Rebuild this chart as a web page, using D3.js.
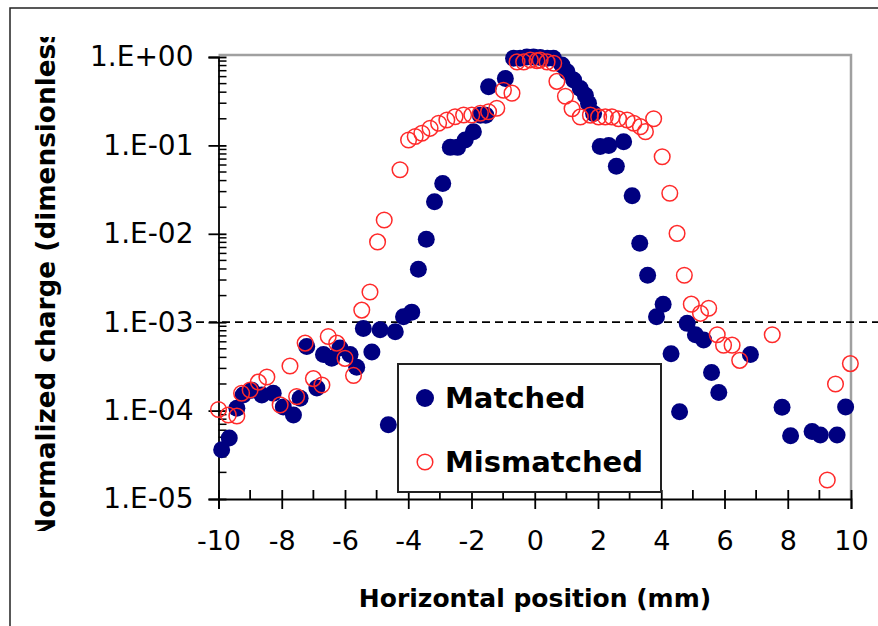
<!DOCTYPE html>
<html><head><meta charset="utf-8">
<script src="https://cdn.jsdelivr.net/npm/d3@7"></script>
<style>
html,body{margin:0;padding:0;background:#fff;}
svg{display:block;}
text{font-family:"DejaVu Sans",Verdana,sans-serif;fill:#000;}
</style></head>
<body>
<svg id="chart" width="878" height="626"></svg>
<script>
// ---- data ----
const matchedX = [-9.90,-9.66,-9.42,-9.22,-8.95,-8.63,-8.27,-7.95,-7.63,-7.42,-7.21,-6.89,-6.68,-6.42,-6.16,-5.84,-5.63,-5.42,-5.15,-4.89,-4.63,-4.41,-4.15,-3.89,
  -3.68,-3.43,-3.17,-2.91,-2.67,-2.44,-2.20,-1.94,-1.72,-1.55,-1.46,-0.93,-0.67,-0.46,-0.25,-0.04,0.17,0.40,0.59,0.86,1.02,1.23,1.44,1.60,1.70,1.86,
  2.07,2.34,2.58,2.81,3.08,3.32,3.57,3.85,4.06,4.31,4.58,4.82,5.08,5.34,5.59,5.82,6.82,7.82,8.09,8.77,9.03,9.56,9.83];
const matchedY = [3.6e-5,4.9e-5,1.06e-4,1.5e-4,1.7e-4,1.5e-4,1.57e-4,1.1e-4,8.9e-5,1.38e-4,5.3e-4,1.8e-4,4.3e-4,3.9e-4,5.1e-4,4.3e-4,3.1e-4,8.5e-4,4.6e-4,8.2e-4,6.9e-5,7.8e-4,1.15e-3,1.3e-3,
  3.96e-3,8.7e-3,2.3e-2,3.7e-2,9.5e-2,9.5e-2,0.115,0.143,0.22,0.22,0.46,0.57,0.97,0.97,1.0,1.0,0.99,0.97,0.97,0.81,0.68,0.55,0.44,0.37,0.30,0.23,
  0.097,0.10,5.8e-2,0.11,2.7e-2,7.8e-3,3.4e-3,1.15e-3,1.6e-3,4.4e-4,9.7e-5,9.7e-4,7.2e-4,6.3e-4,2.7e-4,1.6e-4,4.3e-4,1.09e-4,5.2e-5,5.8e-5,5.3e-5,5.3e-5,1.1e-4];

const mismatchedX = [-10.0,-9.69,-9.42,-9.27,-9.0,-8.74,-8.47,-8.05,-7.74,-7.53,-7.26,-7.0,-6.73,-6.53,-6.26,-6.0,-5.73,-5.47,-5.21,
  -4.97,-4.76,-4.26,-3.99,-3.78,-3.57,-3.31,-3.04,-2.78,-2.52,-2.25,-1.99,-1.72,-1.46,-1.20,-0.99,-0.72,-0.56,-0.35,-0.14,0.07,0.17,0.39,0.60,
  0.70,0.97,1.18,1.44,1.76,2.02,2.23,2.44,2.65,2.92,3.13,3.34,3.50,3.76,4.03,4.27,4.50,4.73,4.95,5.24,5.50,5.77,5.97,6.24,6.48,7.51,9.25,9.51,9.98];
const mismatchedY = [1.03e-4,8.9e-5,8.7e-5,1.57e-4,1.71e-4,2.1e-4,2.4e-4,1.16e-4,3.2e-4,1.44e-4,5.8e-4,2.3e-4,1.95e-4,6.9e-4,5.8e-4,3.9e-4,2.5e-4,1.37e-3,2.2e-3,
  8.1e-3,1.43e-2,5.3e-2,0.115,0.126,0.137,0.156,0.178,0.194,0.211,0.221,0.221,0.231,0.24,0.263,0.42,0.39,0.88,0.88,0.925,0.91,0.925,0.88,0.85,
  0.53,0.36,0.26,0.21,0.22,0.21,0.21,0.21,0.20,0.194,0.178,0.163,0.143,0.20,0.0745,0.0287,0.0101,3.4e-3,1.6e-3,1.26e-3,1.44e-3,7.2e-4,5.5e-4,5.5e-4,3.7e-4,7.2e-4,1.64e-5,2.0e-4,3.4e-4];

const seriesNames = ["Matched","Mismatched"];
const xTickValues = [-10,-8,-6,-4,-2,0,2,4,6,8,10];
const xTickLabels = ["-10","-8","-6","-4","-2","0","2","4","6","8","10"];
const yTickValues = [1,1e-1,1e-2,1e-3,1e-4,1e-5];
const yTickLabels = ["1.E+00","1.E-01","1.E-02","1.E-03","1.E-04","1.E-05"];
const thresholdValue = 1e-3;
const xTitle = "Horizontal position (mm)";
const yTitle = "Normalized charge (dimensionless)";

// ---- layout ----
const svg = d3.select("#chart");
const L = 218.5, R = 851, T = 57, B = 499;
const x = d3.scaleLinear().domain([-10,10]).range([L,R]);
const y = d3.scaleLog().domain([1e-5,1]).range([B,T]);

// outer frame (left and top edges visible)
svg.append("path").attr("d","M10,626 L10,8 L878,8").attr("fill","none").attr("stroke","#222").attr("stroke-width",1.5);

// plot area border (gray top/right)
svg.append("path").attr("d",`M${L},${T-2} L${R},${T-2} L${R},${B}`).attr("fill","none").attr("stroke","#a0a0a0").attr("stroke-width",2.5);

// threshold dashed line
svg.append("line").attr("x1",196).attr("x2",878).attr("y1",y(thresholdValue)).attr("y2",y(thresholdValue))
  .attr("stroke","#000").attr("stroke-width",1.8).attr("stroke-dasharray","8,5");

// minor ticks
const xMinor = d3.range(-9,10,2);
const yMinor = [];
for (let k=-5;k<0;k++) for (let m=2;m<=9;m++) yMinor.push(m*Math.pow(10,k));

const gx = svg.append("g").attr("transform",`translate(0,${B})`);
gx.call(d3.axisBottom(x).tickValues(xTickValues).tickFormat((d,i)=>xTickLabels[i]).tickSize(10).tickPadding(22));
gx.select(".domain").attr("stroke","#000").attr("stroke-width",1.8);
gx.selectAll(".tick line").attr("y1",-9).attr("y2",10).attr("stroke","#000").attr("stroke-width",1.8);
gx.selectAll(".tick text").attr("font-size",27).attr("font-family","DejaVu Sans").attr("fill","#000");
gx.selectAll(".minor").data(xMinor).enter().append("line").attr("class","minor")
  .attr("x1",d=>x(d)).attr("x2",d=>x(d)).attr("y1",-9).attr("y2",0).attr("stroke","#000").attr("stroke-width",1.8);

const gy = svg.append("g").attr("transform",`translate(${L},0)`);
gy.call(d3.axisLeft(y).tickValues(yTickValues).tickFormat((d,i)=>yTickLabels[i]).tickSize(10).tickPadding(15));
gy.select(".domain").attr("stroke","#000").attr("stroke-width",1.8);
gy.selectAll(".tick line").attr("x1",8).attr("x2",-10).attr("stroke","#000").attr("stroke-width",1.8);
gy.selectAll(".tick text").attr("font-size",28).attr("font-family","DejaVu Sans").attr("fill","#000");
gy.selectAll(".minor").data(yMinor).enter().append("line").attr("class","minor")
  .attr("x1",0).attr("x2",8).attr("y1",d=>y(d)).attr("y2",d=>y(d)).attr("stroke","#000").attr("stroke-width",1.5);

// points
const matched = matchedX.map((v,i)=>({x:v,y:matchedY[i]}));
const mismatched = mismatchedX.map((v,i)=>({x:v,y:mismatchedY[i]}));
svg.append("g").selectAll("circle").data(matched).enter().append("circle")
  .attr("cx",d=>x(d.x)).attr("cy",d=>y(d.y)).attr("r",8.5).attr("fill","#000080");
svg.append("g").selectAll("circle").data(mismatched).enter().append("circle")
  .attr("cx",d=>x(d.x)).attr("cy",d=>y(d.y)).attr("r",7.8).attr("fill","none").attr("stroke","#ff2a2a").attr("stroke-width",1.5);

// legend
const lg = svg.append("g");
lg.append("rect").attr("x",398).attr("y",364).attr("width",263).attr("height",128).attr("fill","#fff").attr("stroke","#222").attr("stroke-width",2);
lg.append("circle").attr("cx",425).attr("cy",398).attr("r",9).attr("fill","#000080");
lg.append("circle").attr("cx",425).attr("cy",462).attr("r",7.8).attr("fill","none").attr("stroke","#ff2a2a").attr("stroke-width",1.5);
lg.append("text").attr("x",445).attr("y",408).attr("font-size",29).attr("font-weight","bold").text(seriesNames[0]);
lg.append("text").attr("x",445).attr("y",472).attr("font-size",29).attr("font-weight","bold").text(seriesNames[1]);

// axis titles
svg.append("text").attr("x",535).attr("y",607).attr("text-anchor","middle").attr("font-size",25).attr("font-weight","bold").text(xTitle);
const clip = svg.append("clipPath").attr("id","yclip");
clip.append("rect").attr("x",0).attr("y",37).attr("width",120).attr("height",494);
svg.append("g").attr("clip-path","url(#yclip)")
  .append("text").attr("transform","translate(55,278) rotate(-90)").attr("text-anchor","middle")
  .attr("font-size",26.3).attr("font-weight","bold").text(yTitle);
</script>
</body></html>
